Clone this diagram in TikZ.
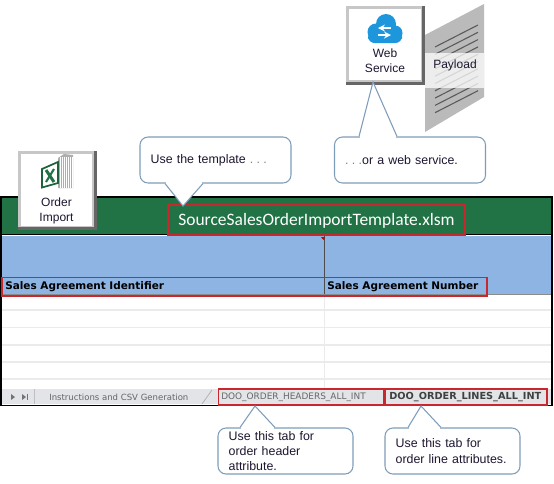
\documentclass[tikz,border=0pt]{standalone}
\usepackage{fontspec}
\setmainfont{Liberation Sans}
\newfontfamily\titlefont{Carlito}
\newfontfamily\gridfont{DejaVu Sans}
\usetikzlibrary{positioning,calc}
\definecolor{sheetgreen}{HTML}{217346}
\definecolor{headblue}{HTML}{8DB4E2}
\definecolor{calloutblue}{HTML}{7F9DB9}
\definecolor{redbox}{HTML}{C8282D}
\definecolor{tabgray}{HTML}{E2E4E8}
\definecolor{textdark}{HTML}{1E1630}
\definecolor{cloudblue}{HTML}{1E96DC}

\begin{document}
\begin{tikzpicture}[
  x=0.75pt, y=-0.75pt,
  tip/.style={draw=calloutblue, line width=0.8pt, fill=white, rounded corners=6pt, text width=97.25pt, minimum height=34.5pt, align=left, font=\fontsize{9.3}{11.4}\selectfont, text=textdark, inner xsep=8pt, inner ysep=0pt},
  widetip/.style={tip, text width=85.25pt},
  tail/.style={draw=calloutblue, line width=0.8pt},
  btn/.style={draw=black!22, line width=2.2pt, fill=white, minimum width=56pt, minimum height=56pt, align=center, font=\fontsize{9}{11.6}\selectfont, text=textdark, inner sep=0pt},
  redmark/.style={draw=redbox, line width=0.8pt, fill=none, inner sep=0pt},
  coltext/.style={font=\gridfont\bfseries\fontsize{7.85}{9}\selectfont, text=black, inner sep=0pt, anchor=west},
  tabtext/.style={font=\gridfont\fontsize{6.4}{8}\selectfont, text=black!60, inner sep=0pt, anchor=west}
]
\useasboundingbox (0,0) rectangle (554,483);

% worksheet
\fill[white] (1,197) rectangle (552,406);
\fill[sheetgreen] (1,197) rectangle (552,234);
\fill[headblue] (2,236) rectangle (552,294);
\foreach \rowy in {310,327.5,345,362,379} \draw[black!8, line width=0.8pt] (2,\rowy) -- (552,\rowy);
\draw[black!8, line width=0.8pt] (324.5,294) -- (324.5,389);
\draw[black!70, line width=0.7pt] (324.5,236) -- (324.5,294);
\draw[black!45, line width=0.6pt] (2,294) -- (552,294);
\fill[red!80!black] (321,237) -- (325,237) -- (323.5,240) -- cycle;
\fill[tabgray] (2,389) rectangle (552,404);
\draw[black!25, line width=0.6pt] (34,389) -- (34,404);
\draw[black!30, line width=0.6pt] (202,404) -- (212,390);
\draw[black, line width=1pt] (1,234.5) -- (552,234.5);
\draw[black, line width=1.3pt] (1,197) rectangle (552,405.5);

% tab strip
\fill[black!55] (11,394) -- (15,397) -- (11,400) -- cycle;
\fill[black!55] (22,394) -- (26,397) -- (22,400) -- cycle;
\draw[black!55, line width=0.7pt] (27,394) -- (27,400);
\node[tabtext] (instr) at (49,397) {Instructions and CSV Generation};
\node[tabtext, font=\gridfont\fontsize{6.7}{8}\selectfont] (headers) at (221,397) {DOO\_ORDER\_HEADERS\_ALL\_INT};
\node[tabtext, font=\gridfont\bfseries\fontsize{7.3}{8}\selectfont, text=black!75] (lines) at (389,397) {DOO\_ORDER\_LINES\_ALL\_INT};

% texts on the sheet
\node[font=\titlefont\fontsize{13.1}{15}\selectfont, text=white, inner sep=0pt] (title) at (316.5,220.5) {SourceSalesOrderImportTemplate.xlsm};
\node[coltext] (agreeid) at (5,287) {Sales Agreement Identifier};
\node[coltext] (agreenum) at (327,287) {Sales Agreement Number};

% red frames
\draw[redmark] (168,205) rectangle (465,235);
\draw[redmark] (2,277.5) rectangle (487,296);
\draw[redmark] (218.5,389) rectangle (384,405);
\draw[redmark] (385.5,389) rectangle (547,405);

% payload page
\fill[black!27] (425,35) -- (484,4) -- (484,97) -- (425,132) -- cycle;
\foreach \liney in {47,54.3,...,120} \draw[black!65, line width=0.8pt] (435,\liney) -- (478,\liney-22);
\fill[white, opacity=0.75] (425,53) rectangle (484,88);
\node[font=\fontsize{9}{11}\selectfont, text=textdark, inner sep=0pt] (payload) at (455,65) {Payload};

% buttons
\node[btn] (orderbtn) at (56.5,190) {\rule{0pt}{26pt}\\Order\\Import};
\node[btn] (webbtn) at (385,44.5) {\rule{0pt}{19pt}\\Web\\Service};
\draw[black!60, line width=2.2pt] (orderbtn.north east) -- (orderbtn.south east) -- (orderbtn.south west);
\draw[black!60, line width=2.2pt] (webbtn.north east) -- (webbtn.south east) -- (webbtn.south west);

% excel icon
\fill[black!32] (58,158) -- (64,154) -- (73,155) -- (73,188) -- (58,188) -- cycle;
\foreach \gridx in {60,62,...,72} \draw[white, line width=0.25pt] (\gridx,157) -- (\gridx,188);
\fill[white, draw=sheetgreen!85!black, line width=1.3pt] (42,169) -- (58,162) -- (58,183) -- (42,187.5) -- cycle;
\draw[sheetgreen, line width=2.2pt] (46,170) -- (54,182);
\draw[sheetgreen, line width=1.6pt] (54,169) -- (46,182);

% cloud icon
\fill[cloudblue, rounded corners=5pt] (368,32) rectangle (402,43);
\fill[cloudblue] (376,32) circle (8.5) (386,24) circle (10) (395,33) circle (7.5);
\draw[white, line width=1.3pt, -stealth] (391,28) -- (378,28);
\draw[white, line width=1.3pt, -stealth] (378,35) -- (391,35);

% callouts
\coordinate (tmplpt) at (183,206);
\coordinate (webpt) at (373,82);
\coordinate (hdrpt) at (255,406);
\coordinate (linept) at (421,406);
\node[tip] (tmpltip) at (215.5,160) {Use the template \textcolor{black!50}{.\hspace{2.5pt}.\hspace{2.5pt}.}};
\node[tip] (webtip) at (410,160) {\textcolor{black!50}{.\hspace{2.5pt}.\hspace{2.5pt}.}or a web service.};
\node[widetip] (hdrtip) at (285.5,451) {Use this tab for\\order header\\attribute.};
\node[widetip] (linetip) at (452.5,451) {Use this tab for\\order line attributes.};
\foreach \edge/\xa/\xb/\pt in {tmpltip.south/165/203/tmplpt, webtip.north/359/397/webpt, hdrtip.north/240/275/hdrpt, linetip.north/408/441/linept}{
  \fill[white] (\xa,0 |- \edge) -- (\pt) -- (\xb,0 |- \edge) -- cycle;
  \draw[white, line width=1.6pt, shorten >=0.6pt, shorten <=0.6pt] (\xa,0 |- \edge) -- (\xb,0 |- \edge);
  \draw[tail] (\xa,0 |- \edge) -- (\pt) -- (\xb,0 |- \edge);
}
\end{tikzpicture}
\end{document}
